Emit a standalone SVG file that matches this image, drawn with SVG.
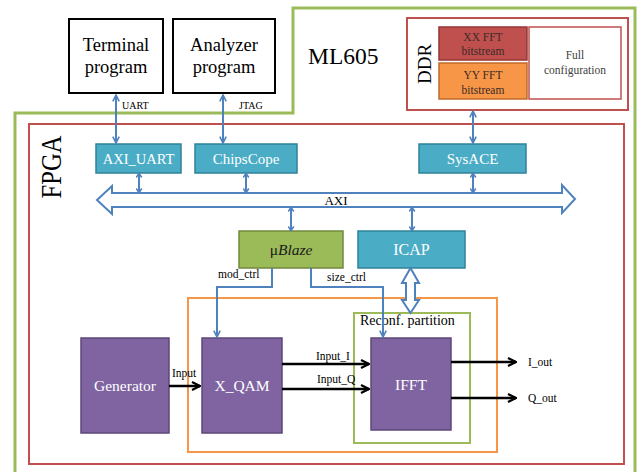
<svg xmlns="http://www.w3.org/2000/svg" width="640" height="472" viewBox="0 0 640 472" font-family="'Liberation Serif', 'Times New Roman', serif">
<defs>
<style>
text{font-family:"Liberation Serif","Times New Roman",serif;}
.ext{fill:#fff;stroke:#000;stroke-width:2;}
.teal{fill:#4bacc6;stroke:#2f8299;stroke-width:1.5;}
.purple{fill:#8064a2;stroke:#5c4776;stroke-width:1.5;}
.wt{fill:#fff;text-anchor:middle;}
.blk{fill:#000;}
.blue{stroke:#4f81bd;stroke-width:2;fill:none;}
.black{stroke:#000;stroke-width:2.5;fill:none;}
.hollow{fill:#fff;stroke:#4f81bd;stroke-width:2;stroke-linejoin:miter;}
</style>
<marker id="ba" viewBox="0 0 10 10" refX="9" refY="5" markerWidth="8" markerHeight="8" orient="auto-start-reverse" markerUnits="userSpaceOnUse">
<path d="M1,1 L9,5 L1,9" fill="none" stroke="#4f81bd" stroke-width="2"/>
</marker>
<marker id="bs" viewBox="0 0 10 10" refX="8" refY="5" markerWidth="7" markerHeight="7" orient="auto-start-reverse" markerUnits="userSpaceOnUse">
<path d="M0,5 L9,5 M3,1 L9,5 L3,9" fill="none" stroke="#4f81bd" stroke-width="2.2"/>
</marker>
<marker id="ka" viewBox="0 0 10 10" refX="9" refY="5" markerWidth="10" markerHeight="10" orient="auto" markerUnits="userSpaceOnUse">
<path d="M1,1 L9,5 L1,9" fill="none" stroke="#000" stroke-width="2.2"/>
</marker>
</defs>
<rect width="640" height="472" fill="#fff"/>

<g id="ml605">
<path d="M15,472 L15,113 L293,113 L293,8 L635,8 L635,472" fill="none" stroke="#9bbb59" stroke-width="3"/>
<text x="308" y="64" font-size="23.5" class="blk">ML605</text>
</g>

<g id="fpga">
<rect x="29" y="124" width="595" height="340" fill="none" stroke="#c0504d" stroke-width="2"/>
<text x="61" y="167" font-size="29" class="blk" text-anchor="middle" transform="rotate(-90 61 167)" textLength="63" lengthAdjust="spacingAndGlyphs">FPGA</text>
</g>

<g id="terminal">
<rect x="69" y="19" width="94" height="74" class="ext"/>
<text x="116" y="51" font-size="18.5" text-anchor="middle" class="blk">Terminal</text>
<text x="116" y="73" font-size="18.5" text-anchor="middle" class="blk">program</text>
</g>
<g id="analyzer">
<rect x="173" y="19" width="102" height="74" class="ext"/>
<text x="224" y="51" font-size="18.5" text-anchor="middle" class="blk">Analyzer</text>
<text x="224" y="73" font-size="18.5" text-anchor="middle" class="blk">program</text>
</g>

<g id="ddr">
<rect x="407" y="18" width="221" height="92" fill="#fff" stroke="#c0504d" stroke-width="2"/>
<text x="431" y="64" font-size="19" class="blk" text-anchor="middle" transform="rotate(-90 431 64)">DDR</text>
</g>
<g id="xx_fft">
<rect x="439" y="27" width="88" height="33" fill="#c0504d" stroke="#943634" stroke-width="1.5"/>
<text x="483" y="41" font-size="11.5" text-anchor="middle" fill="#3a2a2a">XX FFT</text>
<text x="483" y="55" font-size="11.5" text-anchor="middle" fill="#3a2a2a">bitstream</text>
</g>
<g id="yy_fft">
<rect x="439" y="63" width="88" height="36" fill="#f79646" stroke="#c06a28" stroke-width="1.5"/>
<text x="483" y="79" font-size="11.5" text-anchor="middle" fill="#3a2a2a">YY FFT</text>
<text x="483" y="94" font-size="11.5" text-anchor="middle" fill="#3a2a2a">bitstream</text>
</g>
<g id="full_config">
<rect x="529" y="27" width="92" height="72" fill="#fff" stroke="#c0504d" stroke-width="1.5"/>
<text x="575" y="59" font-size="11.5" text-anchor="middle" fill="#404040">Full</text>
<text x="575" y="74" font-size="11.5" text-anchor="middle" fill="#404040">configuration</text>
</g>

<g id="axi_uart">
<rect x="96" y="144" width="85" height="29" class="teal"/>
<text x="138.5" y="164" font-size="14.5" class="wt">AXI_UART</text>
</g>
<g id="chipscope">
<rect x="195" y="144" width="102" height="29" class="teal"/>
<text x="246" y="164" font-size="15" class="wt">ChipsCope</text>
</g>
<g id="sysace">
<rect x="419" y="144" width="107" height="29" class="teal"/>
<text x="472.5" y="164" font-size="15" class="wt">SysACE</text>
</g>

<g id="axi_bus">
<path d="M97,200 L112,186 L112,193 L562,193 L562,185 L575,199 L562,213 L562,207 L112,207 L112,214 Z" class="hollow"/>
<text x="336" y="205" font-size="13" text-anchor="middle" class="blk">AXI</text>
</g>

<g id="microblaze">
<rect x="239" y="231" width="104" height="37" fill="#9bbb59" stroke="#71893f" stroke-width="1.5"/>
<text x="291" y="255" font-size="15.5" text-anchor="middle" fill="#1a1a1a">μ<tspan font-style="italic">Blaze</tspan></text>
</g>
<g id="icap">
<rect x="358" y="231" width="107" height="37" class="teal"/>
<text x="411.5" y="255" font-size="16" class="wt">ICAP</text>
</g>

<g id="x_qam_region">
<rect x="188" y="298" width="309" height="154" fill="none" stroke="#f79646" stroke-width="2"/>
</g>
<g id="reconf_partition">
<rect x="354" y="313" width="116" height="130" fill="none" stroke="#9bbb59" stroke-width="2"/>
<text x="360" y="325" font-size="14" class="blk">Reconf. partition</text>
</g>

<g id="generator">
<rect x="81" y="338" width="88" height="95" class="purple"/>
<text x="125" y="391" font-size="15.5" class="wt">Generator</text>
</g>
<g id="x_qam">
<rect x="202" y="338" width="80" height="95" class="purple"/>
<text x="242" y="391" font-size="15.5" class="wt">X_QAM</text>
</g>
<g id="ifft">
<rect x="371" y="338" width="80" height="92" class="purple"/>
<text x="411" y="390" font-size="15.5" class="wt">IFFT</text>
</g>

<g id="connectors">
<line x1="116" y1="95" x2="116" y2="143" class="blue" marker-start="url(#ba)" marker-end="url(#ba)"/>
<line x1="223" y1="95" x2="223" y2="143" class="blue" marker-start="url(#ba)" marker-end="url(#ba)"/>
<line x1="473" y1="111" x2="473" y2="143" class="blue" marker-start="url(#ba)" marker-end="url(#ba)"/>
<line x1="139" y1="174" x2="139" y2="192" class="blue" stroke-width="1.6" marker-start="url(#bs)" marker-end="url(#bs)"/>
<line x1="246" y1="174" x2="246" y2="192" class="blue" stroke-width="1.6" marker-start="url(#bs)" marker-end="url(#bs)"/>
<line x1="473" y1="174" x2="473" y2="192" class="blue" stroke-width="1.6" marker-start="url(#bs)" marker-end="url(#bs)"/>
<line x1="291" y1="208" x2="291" y2="230" class="blue" stroke-width="1.6" marker-start="url(#bs)" marker-end="url(#bs)"/>
<line x1="412" y1="208" x2="412" y2="230" class="blue" stroke-width="1.6" marker-start="url(#bs)" marker-end="url(#bs)"/>
<path d="M410.5,268 L419,283 L415,283 L415,300 L419,300 L410.5,313 L402,300 L406,300 L406,283 L402,283 Z" class="hollow"/>
<path d="M272,268 L272,287 L217,287 L217,337" class="blue" stroke-width="1.5" marker-end="url(#ba)"/>
<path d="M311,268 L311,287 L383,287 L383,337" class="blue" stroke-width="1.5" marker-end="url(#ba)"/>
<line x1="169" y1="386" x2="200" y2="386" class="black" marker-end="url(#ka)"/>
<line x1="282" y1="364" x2="369" y2="364" class="black" marker-end="url(#ka)"/>
<line x1="282" y1="389" x2="369" y2="389" class="black" marker-end="url(#ka)"/>
<line x1="451" y1="362" x2="516" y2="362" class="black" marker-end="url(#ka)"/>
<line x1="451" y1="398" x2="516" y2="398" class="black" marker-end="url(#ka)"/>
<text x="122" y="109" font-size="10" class="blk">UART</text>
<text x="239" y="109" font-size="10" class="blk">JTAG</text>
<text x="218" y="278" font-size="11.5" class="blk">mod_ctrl</text>
<text x="327" y="281" font-size="11.5" class="blk">size_ctrl</text>
<text x="172" y="377" font-size="11.5" class="blk">Input</text>
<text x="316" y="360" font-size="11.5" class="blk">Input_I</text>
<text x="317" y="383" font-size="11.5" class="blk">Input_Q</text>
<text x="528" y="366" font-size="11.5" class="blk">I_out</text>
<text x="528" y="402" font-size="11.5" class="blk">Q_out</text>
</g>
</svg>
